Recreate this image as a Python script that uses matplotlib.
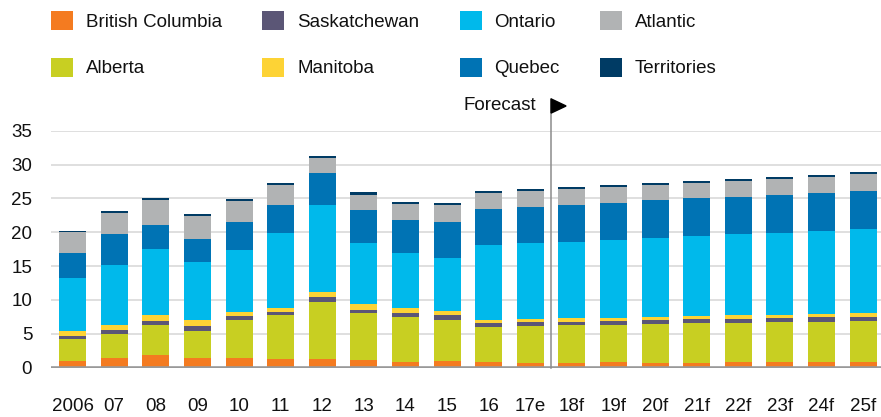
import matplotlib
matplotlib.use("Agg")
import matplotlib.pyplot as plt
import numpy as np
from matplotlib.patches import Patch, Polygon

plt.rcParams['font.family'] = ['Liberation Sans', 'DejaVu Sans']

years = ["2006", "07", "08", "09", "10", "11", "12", "13", "14", "15", "16", "17e",
         "18f", "19f", "20f", "21f", "22f", "23f", "24f", "25f"]

british_columbia = [1.03, 1.43, 1.87, 1.43, 1.43, 1.28, 1.28, 1.13, 0.84, 0.99, 0.84, 0.69,
                    0.69, 0.84, 0.69, 0.69, 0.84, 0.84, 0.84, 0.84]
alberta = [3.21, 3.55, 4.44, 3.99, 5.61, 6.50, 8.42, 6.95, 6.65, 6.05, 5.17, 5.47,
           5.62, 5.47, 5.76, 5.91, 5.76, 5.91, 5.91, 6.06]
saskatchewan = [0.44, 0.59, 0.59, 0.74, 0.60, 0.45, 0.74, 0.44, 0.59, 0.74, 0.59, 0.59,
                0.44, 0.59, 0.59, 0.59, 0.59, 0.59, 0.74, 0.59]
manitoba = [0.74, 0.74, 0.88, 0.88, 0.59, 0.59, 0.74, 0.89, 0.74, 0.59, 0.44, 0.44,
            0.59, 0.44, 0.45, 0.45, 0.59, 0.44, 0.44, 0.59]
ontario = [7.83, 8.86, 9.76, 8.58, 9.16, 11.08, 12.86, 9.01, 8.13, 7.84, 11.09, 11.23,
           11.23, 11.53, 11.67, 11.82, 11.97, 12.12, 12.27, 12.41]
quebec = [3.70, 4.58, 3.54, 3.39, 4.14, 4.14, 4.73, 4.88, 4.87, 5.32, 5.32, 5.32,
          5.47, 5.46, 5.62, 5.61, 5.47, 5.62, 5.61, 5.62]
atlantic = [3.10, 3.11, 3.70, 3.40, 3.10, 2.96, 2.22, 2.22, 2.37, 2.51, 2.36, 2.37,
            2.36, 2.37, 2.22, 2.22, 2.37, 2.36, 2.37, 2.51]
territories = [0.15, 0.29, 0.29, 0.30, 0.30, 0.29, 0.29, 0.44, 0.29, 0.29, 0.30, 0.29,
               0.30, 0.30, 0.29, 0.30, 0.29, 0.30, 0.29, 0.30]

y_ticks = [0, 5, 10, 15, 20, 25, 30, 35]
forecast_label = "Forecast"
forecast_after = "17e"  # last non-forecast category

series = [
    ("British Columbia", british_columbia, "#F47B20"),
    ("Alberta", alberta, "#C8CF22"),
    ("Saskatchewan", saskatchewan, "#5B5676"),
    ("Manitoba", manitoba, "#FDD335"),
    ("Ontario", ontario, "#00B9EB"),
    ("Quebec", quebec, "#0073B4"),
    ("Atlantic", atlantic, "#B1B3B4"),
    ("Territories", territories, "#003B64"),
]

FS = 13.5
W, H = 881, 417
fig = plt.figure(figsize=(W / 100, H / 100), dpi=100)
ax = fig.add_axes([51 / W, 1 - 367.7 / H, 1 - 51 / W, (367.7 - 130.7) / H])

x = np.arange(len(years))
bottom = np.zeros(len(years))
for name, vals, col in series:
    v = np.array(vals)
    ax.bar(x, v, width=0.65, bottom=bottom, color=col, edgecolor='none', zorder=2)
    bottom += v

ax.set_xlim(-0.52, len(years) - 0.57)
ax.set_ylim(0, 35)
ax.set_yticks(y_ticks)
ax.set_xticks(x)
ax.set_xticklabels(years)
ax.yaxis.grid(True, color='#d9d9d9', lw=1.2, zorder=0)
ax.set_axisbelow(True)
for s in ax.spines.values():
    s.set_visible(False)
ax.axhline(0, color='#999999', lw=2.6, zorder=3)
ax.tick_params(axis='both', length=0, labelsize=FS, colors='#111111')
ax.tick_params(axis='y', pad=13.5)
ax.tick_params(axis='x', pad=21.5)
for lbl in ax.get_yticklabels():
    lbl.set_verticalalignment('center_baseline')

# Forecast marker
fx = years.index(forecast_after) + 0.5
top_y = 39.7
ax.plot([fx, fx], [0, top_y], color='#8c8c8c', lw=1.1, clip_on=False, zorder=4)
tri_w = 15 / 41.6
ax.add_patch(Polygon([(fx, top_y), (fx, top_y - 2.1), (fx + tri_w, top_y - 1.05)],
                     closed=True, color='black', clip_on=False, zorder=5))
ax.annotate(forecast_label, xy=(fx, top_y - 1.05), xytext=(-11, 0),
            textcoords='offset points', ha='right', va='center', fontsize=FS,
            color='#111111', annotation_clip=False)

# Legend (row-major order as in the reference)
order = ["British Columbia", "Saskatchewan", "Ontario", "Atlantic",
         "Alberta", "Manitoba", "Quebec", "Territories"]
cmap = {n: c for n, _, c in series}
col_major = []
for c in range(4):
    for r in range(2):
        col_major.append(order[r * 4 + c])
handles = [Patch(facecolor=cmap[n], edgecolor='none', label=n) for n in col_major]
fig.legend(handles=handles, loc='upper left', bbox_to_anchor=(51 / W, 1 - 11.5 / H),
           ncol=4, frameon=False, fontsize=FS, handlelength=1.18, handleheight=1.18,
           handletextpad=0.68, columnspacing=2.15, labelspacing=1.4, borderpad=0,
           borderaxespad=0, labelcolor='#111111')

fig.savefig("out.png", dpi=100)
